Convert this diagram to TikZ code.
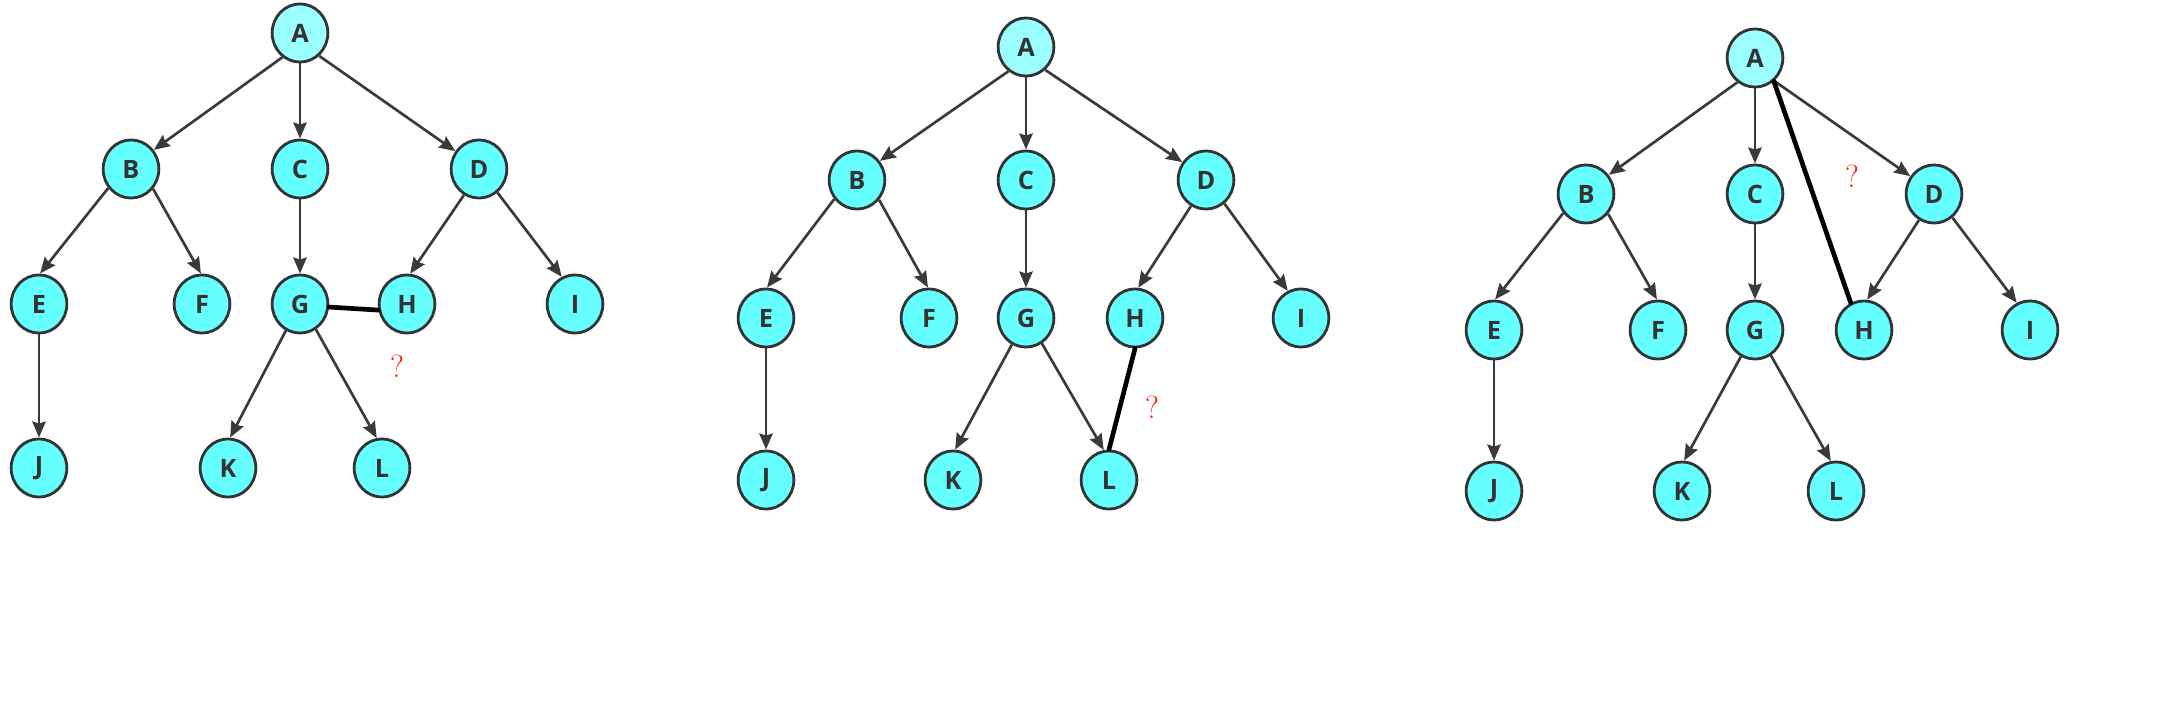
\documentclass[tikz,border=0pt]{standalone}
\usepackage{fontspec}
\newfontfamily\lblfont{Open Sans}
\usetikzlibrary{arrows.meta,shapes.geometric}

\tikzset{
  vtx/.style={ellipse, draw={rgb, 255:red, 51; green, 51; blue, 51 }, line width=2.1pt,
    fill={rgb, 255:red, 102; green, 255; blue, 255 }, minimum width=41.8pt, minimum height=43.6pt,
    inner sep=0pt, text={rgb, 255:red, 51; green, 51; blue, 51 },
    font=\lblfont\bfseries\fontsize{19}{19}\selectfont},
  rootvtx/.style={vtx, fill={rgb, 255:red, 155; green, 255; blue, 255 }},
  edge/.style={draw={rgb, 255:red, 58; green, 58; blue, 58 }, line width=2pt,
    -{Stealth[length=12pt,width=10pt,inset=1.5pt]}},
  hand/.style={draw=black, line width=3.5pt, line cap=round},
  qmark/.style={text={rgb, 255:red, 255; green, 30; blue, 0 }, inner sep=0pt,
    font=\fontsize{24}{24}\selectfont}
}

\begin{document}
\begin{tikzpicture}[x=0.75pt,y=0.75pt,yscale=-1,xscale=1]
%set diagram left start at 0, and has height of 709
\path[use as bounding box] (0,0) rectangle (2157,709);

%Tree 1
\node [rootvtx] (a1) at (300,33) {A};
\node [vtx] (b1) at (131,169) {B};
\node [vtx] (c1) at (300,169) {C};
\node [vtx] (d1) at (479,169) {D};
\node [vtx] (e1) at (39,304) {E};
\node [vtx] (f1) at (202,304) {F};
\node [vtx] (g1) at (300,304) {G};
\node [vtx] (h1) at (407,304) {H};
\node [vtx] (i1) at (575,304) {I};
\node [vtx] (j1) at (39,468) {J};
\node [vtx] (k1) at (228,468) {K};
\node [vtx] (l1) at (382,468) {L};
\draw [edge] (a1.-126) -- (b1.40);
\draw [edge] (a1.south) -- (c1.north);
\draw [edge] (a1.-50) -- (d1.143);
\draw [edge] (b1.-140) -- (e1.88);
\draw [edge] (b1.-42) -- (f1.92);
\draw [edge] (c1.south) -- (g1.north);
\draw [edge] (d1.-120) -- (h1.84);
\draw [edge] (d1.-52) -- (i1.116);
\draw [edge] (e1.south) -- (j1.north);
\draw [edge] (g1.-118) -- (k1.86);
\draw [edge] (g1.-58) -- (l1.100);
%hand drawn line
\draw [hand] (g1.-6) -- (h1.-168);
% Text Node
\node [qmark] (q1) at (397,366) {?};

%Tree 2
\node [rootvtx] (a2) at (1026,47) {A};
\node [vtx] (b2) at (857,180) {B};
\node [vtx] (c2) at (1026,180) {C};
\node [vtx] (d2) at (1206,180) {D};
\node [vtx] (e2) at (766,318) {E};
\node [vtx] (f2) at (929,318) {F};
\node [vtx] (g2) at (1026,318) {G};
\node [vtx] (h2) at (1135,318) {H};
\node [vtx] (i2) at (1301,318) {I};
\node [vtx] (j2) at (766,480) {J};
\node [vtx] (k2) at (953,480) {K};
\node [vtx] (l2) at (1109,480) {L};
\draw [edge] (a2.-126) -- (b2.40);
\draw [edge] (a2.south) -- (c2.north);
\draw [edge] (a2.-50) -- (d2.143);
\draw [edge] (b2.-140) -- (e2.88);
\draw [edge] (b2.-42) -- (f2.92);
\draw [edge] (c2.south) -- (g2.north);
\draw [edge] (d2.-120) -- (h2.84);
\draw [edge] (d2.-52) -- (i2.116);
\draw [edge] (e2.south) -- (j2.north);
\draw [edge] (g2.-118) -- (k2.86);
\draw [edge] (g2.-58) -- (l2.100);
%hand drawn line
\draw [hand] (h2.south) -- (l2.north);
% Text Node
\node [qmark] (q2) at (1152,407) {?};

%Tree 3
\node [rootvtx] (a3) at (1755,58) {A};
\node [vtx] (b3) at (1586,194) {B};
\node [vtx] (c3) at (1755,194) {C};
\node [vtx] (d3) at (1934,194) {D};
\node [vtx] (e3) at (1494,330) {E};
\node [vtx] (f3) at (1658,330) {F};
\node [vtx] (g3) at (1755,330) {G};
\node [vtx] (h3) at (1864,330) {H};
\node [vtx] (i3) at (2030,330) {I};
\node [vtx] (j3) at (1494,491) {J};
\node [vtx] (k3) at (1682,491) {K};
\node [vtx] (l3) at (1836,491) {L};
\draw [edge] (a3.-126) -- (b3.40);
\draw [edge] (a3.south) -- (c3.north);
\draw [edge] (a3.-50) -- (d3.143);
\draw [edge] (b3.-140) -- (e3.88);
\draw [edge] (b3.-42) -- (f3.92);
\draw [edge] (c3.south) -- (g3.north);
\draw [edge] (d3.-120) -- (h3.84);
\draw [edge] (d3.-52) -- (i3.116);
\draw [edge] (e3.south) -- (j3.north);
\draw [edge] (g3.-118) -- (k3.86);
\draw [edge] (g3.-58) -- (l3.100);
%hand drawn line
\draw [hand] (a3.-51) -- (h3.116);
% Text Node
\node [qmark] (q3) at (1852,176) {?};

\end{tikzpicture}
\end{document}
